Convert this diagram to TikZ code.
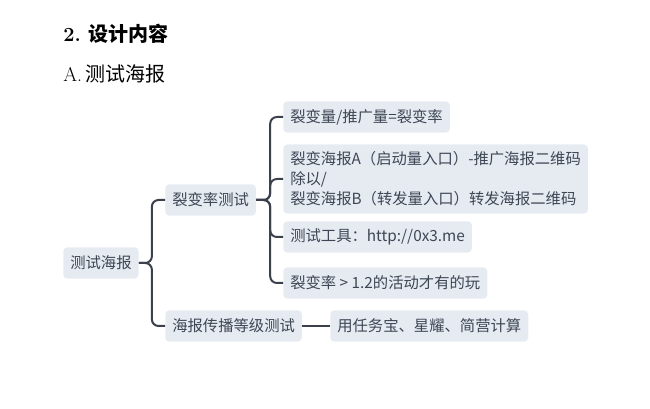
\documentclass[tikz,border=0pt]{standalone}
\usepackage{fontspec}
\newfontfamily\cjk{Noto Sans CJK SC}
\usepackage{xcolor}
\usetikzlibrary{positioning}
\definecolor{topicfill}{RGB}{230,235,242}
\definecolor{topictext}{RGB}{62,70,84}
\definecolor{branchline}{RGB}{58,64,76}
\tikzset{
  topic/.style={fill=topicfill, text=topictext, rounded corners=3pt, anchor=west,
    inner xsep=5.25pt, inner ysep=5.5pt, minimum height=23.5pt,
    font=\cjk\fontsize{11.5pt}{15pt}\selectfont, align=left},
  branch/.style={draw=branchline, line width=1.5pt, rounded corners=5pt},
  heading/.style={anchor=west, inner sep=0pt, text=black}
}

\begin{document}
\begin{tikzpicture}[x=0.75pt,y=0.75pt,yscale=-1,xscale=1]
\useasboundingbox (0,0) rectangle (650,409);

% Text Node
\node[heading] (title) at (63,34) {\fontsize{15pt}{18pt}\selectfont\bfseries 2.\ {\cjk 设计内容}};
% Text Node
\node[heading] (subtitle) at (63,74) {\fontsize{15pt}{18pt}\selectfont A.\,{\cjk 测试海报}};

% Root
\node[topic] (root) at (63,263) {测试海报};
% Level 1
\node[topic] (rate) at (165,200) {裂变率测试};
\node[topic] (level) at (165,326) {海报传播等级测试};
% Level 2
\node[topic] (formula) at (283,117) {裂变量/推广量=裂变率};
\node[topic] (ratio) at (283,179) {裂变海报A（启动量入口）-推广海报二维码\\除以/\\裂变海报B（转发量入口）转发海报二维码};
\node[topic] (tool) at (283,237) {测试工具：http://0x3.me};
\node[topic] (limit) at (283,283) {裂变率 > 1.2的活动才有的玩};
\node[topic] (method) at (330,326) {用任务宝、星耀、简营计算};

% Branches
\foreach \child in {rate,level}
  \draw[branch] (root.east) -- ++(13,0) |- (\child.west);
\foreach \child in {formula,ratio,tool,limit}
  \draw[branch] (rate.east) -- ++(14,0) |- (\child.west);
\draw[branch] (level.east) -- (method.west);

\end{tikzpicture}
\end{document}
